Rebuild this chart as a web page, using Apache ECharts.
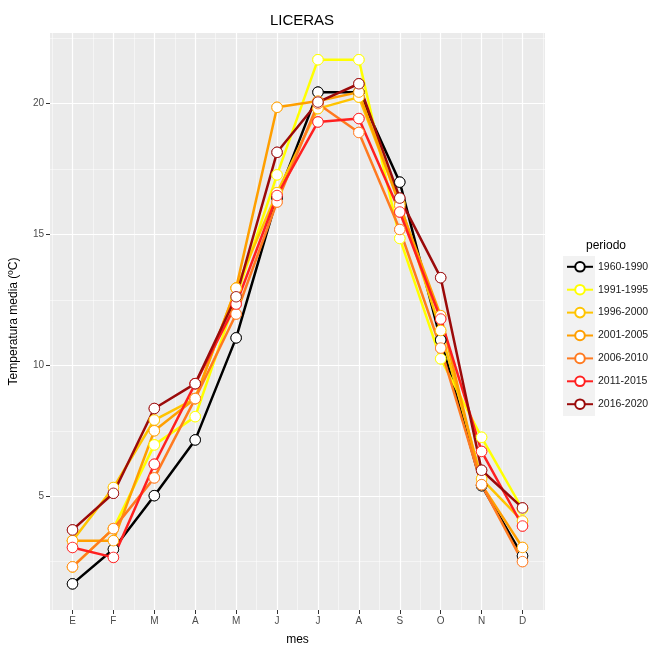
<!DOCTYPE html>
<html>
<head>
<meta charset="utf-8">
<script src="https://cdn.jsdelivr.net/npm/echarts@6/dist/echarts.min.js"></script>
<style>
  html, body { margin: 0; padding: 0; background: #fff; }
  #main { width: 661px; height: 651px; }
</style>
</head>
<body>
<div id="main"></div>
<script>
// meses (eje x)
const meses = ['E', 'F', 'M', 'A', 'M', 'J', 'J', 'A', 'S', 'O', 'N', 'D'];
const periodos = ['1960-1990', '1991-1995', '1996-2000', '2001-2005', '2006-2010', '2011-2015', '2016-2020'];

// temperatura media por periodo
const t1960 = [1.65, 2.97, 5.02, 7.15, 11.05, 16.4, 20.44, 20.44, 17.0, 10.97, 5.4, 2.72];
const t1991 = [2.3, 3.76, 6.96, 8.04, 12.6, 17.28, 21.68, 21.68, 14.85, 10.25, 7.25, 4.5];
const t1996 = [3.3, 5.33, 7.91, 8.73, 12.95, 16.6, 19.81, 20.25, 16.2, 11.33, 5.66, 4.05];
const t2001 = [3.3, 3.3, 7.5, 8.73, 12.95, 19.86, 20.1, 20.44, 16.11, 11.9, 5.44, 3.04];
const t2006 = [2.3, 3.76, 5.7, 8.73, 11.96, 16.24, 20.0, 18.9, 15.19, 10.66, 5.44, 2.5];
const t2011 = [3.04, 2.66, 6.22, 9.3, 12.34, 16.49, 19.3, 19.43, 15.86, 11.77, 6.71, 3.86];
const t2016 = [3.71, 5.11, 8.35, 9.3, 12.62, 18.14, 20.06, 20.76, 16.39, 13.35, 5.99, 4.55];

const valores = [t1960, t1991, t1996, t2001, t2006, t2011, t2016];
const colores = ['#000000', '#FFFF00', '#FFC400', '#FF9F00', '#FF7A20', '#FF2020', '#9B0A0A'];

// marcas de ejes
const xTicks = [1, 2, 3, 4, 5, 6, 7, 8, 9, 10, 11, 12];
const xMinor = [0.5, 1.5, 2.5, 3.5, 4.5, 5.5, 6.5, 7.5, 8.5, 9.5, 10.5, 11.5, 12.5];
const yTicks = [5, 10, 15, 20];
const yMinor = [2.5, 7.5, 12.5, 17.5, 22.5];

const FONT = 'Liberation Sans, Arial, sans-serif';

const lineas = valores.map((v, i) => ({
  name: periodos[i],
  type: 'line',
  xAxisIndex: 0,
  yAxisIndex: 0,
  data: v.map((y, k) => [k + 1, y]),
  symbol: 'circle',
  symbolSize: 10.5,
  showSymbol: true,
  lineStyle: { color: colores[i], width: 2.5 },
  itemStyle: { color: '#fff', borderColor: colores[i], borderWidth: 0.9 },
  emphasis: { disabled: true },
  z: 2,
  silent: true
}));

// puntos encima de todas las lineas
const puntos = valores.map((v, i) => ({
  name: 'p' + i,
  type: 'scatter',
  xAxisIndex: 0,
  yAxisIndex: 0,
  data: v.map((y, k) => [k + 1, y]),
  symbol: 'circle',
  symbolSize: 10.5,
  itemStyle: { color: '#fff', borderColor: colores[i], borderWidth: 0.9, opacity: 1 },
  emphasis: { disabled: true },
  z: 3,
  silent: true
}));

const myChart = echarts.init(document.getElementById('main'));

const option = {
  animation: false,
  textStyle: { fontFamily: FONT },
  title: [
    {
      text: 'LICERAS',
      left: 297,
      top: 8,
      textAlign: 'center',
      textStyle: { fontFamily: FONT, fontSize: 15, fontWeight: 'normal', color: '#000' }
    },
    {
      text: 'periodo',
      left: 581,
      top: 235,
      textStyle: { fontFamily: FONT, fontSize: 12, fontWeight: 'normal', color: '#000' }
    }
  ],
  graphic: [
    { type: 'rect', left: 563, top: 256, shape: { width: 32, height: 160 }, style: { fill: '#F2F2F2' }, z: -1 }
  ],
  legend: {
    data: periodos,
    orient: 'vertical',
    left: 566,
    top: 261,
    padding: 0,
    itemWidth: 26,
    itemHeight: 12,
    itemGap: 11.3,
    textStyle: { fontFamily: FONT, fontSize: 10.5, color: '#1A1A1A' },
    selectedMode: false
  },
  grid: {
    left: 50, right: 116, top: 33, bottom: 39,
    show: true, backgroundColor: '#EBEBEB', borderWidth: 0
  },
  xAxis: [
    {
      type: 'value', min: 0.45, max: 12.55,
      name: 'mes', nameLocation: 'middle', nameGap: 24,
      nameTextStyle: { fontFamily: FONT, fontSize: 12, color: '#000' },
      axisLine: { show: false },
      axisTick: { show: true, length: 4, customValues: xTicks, lineStyle: { color: '#333', width: 1 } },
      axisLabel: { customValues: xTicks, formatter: v => meses[Math.round(v) - 1], color: '#4D4D4D', fontSize: 10, margin: 6 },
      splitLine: { show: true, lineStyle: { color: '#fff', width: 1.2 } }
    },
    {
      type: 'value', min: 0.45, max: 12.55, position: 'bottom',
      axisLine: { show: false },
      axisTick: { show: false, customValues: xMinor },
      axisLabel: { show: false, customValues: xMinor },
      splitLine: { show: true, lineStyle: { color: '#fff', width: 0.5 } }
    }
  ],
  yAxis: [
    {
      type: 'value', min: 0.65, max: 22.7,
      name: 'Temperatura media (ºC)', nameLocation: 'middle', nameGap: 30, nameRotate: 90,
      nameTextStyle: { fontFamily: FONT, fontSize: 12, color: '#000' },
      axisLine: { show: false },
      axisTick: { show: true, length: 4, customValues: yTicks, lineStyle: { color: '#333', width: 1 } },
      axisLabel: { customValues: yTicks, color: '#4D4D4D', fontSize: 10, margin: 6 },
      splitLine: { show: true, lineStyle: { color: '#fff', width: 1.2 } }
    },
    {
      type: 'value', min: 0.65, max: 22.7, position: 'left',
      axisLine: { show: false },
      axisTick: { show: false, customValues: yMinor },
      axisLabel: { show: false, customValues: yMinor },
      splitLine: { show: true, lineStyle: { color: '#fff', width: 0.5 } }
    }
  ],
  series: lineas.concat(puntos)
};

myChart.setOption(option);
</script>
</body>
</html>
